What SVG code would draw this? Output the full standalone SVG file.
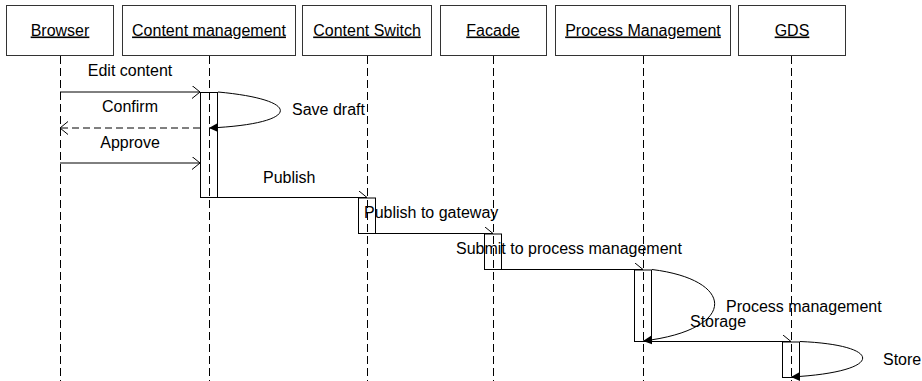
<svg xmlns="http://www.w3.org/2000/svg" width="922" height="381" viewBox="0 0 922 381">
<style>
.box{fill:#fff;stroke:#333;stroke-width:1}
.act{fill:#fff;stroke:#000;stroke-width:1}
.life{stroke:#000;stroke-width:1;stroke-dasharray:8,4;fill:none}
.hdr{font-family:"Liberation Sans",Arial,sans-serif;font-size:16px;text-anchor:middle;text-decoration:underline;fill:#000}
.lbl{font-family:"Liberation Sans",Arial,sans-serif;font-size:16px;fill:#000}
.msg{stroke:#000;stroke-width:1;fill:none}
.dash{stroke-dasharray:7,4}
</style>
<defs>
<marker id="open" markerWidth="10" markerHeight="14" refX="8" refY="6.5" orient="auto" markerUnits="userSpaceOnUse">
<path d="M0,0 L8,6.5 L0,13" fill="none" stroke="#000" stroke-width="1"/>
</marker>
<marker id="filled" markerWidth="10" markerHeight="10" refX="9" refY="4.5" orient="auto" markerUnits="userSpaceOnUse">
<path d="M0,0 L9,4.5 L0,9 Z" fill="#000"/>
</marker>
</defs>
<rect width="922" height="381" fill="#fff"/>
<g id="connectors">
<line class="msg" x1="60" y1="92" x2="200" y2="92" marker-end="url(#open)"/>
<text class="lbl" x="130" y="75.5" text-anchor="middle">Edit content</text>
<line class="msg dash" x1="200" y1="128" x2="60" y2="128" marker-end="url(#open)"/>
<text class="lbl" x="130" y="111.5" text-anchor="middle">Confirm</text>
<line class="msg" x1="60" y1="163" x2="200" y2="163" marker-end="url(#open)"/>
<text class="lbl" x="130" y="147.5" text-anchor="middle">Approve</text>
<line class="msg" x1="200" y1="197.5" x2="367" y2="197.5" marker-end="url(#open)"/>
<text class="lbl" x="263" y="183">Publish</text>
<line class="msg" x1="358" y1="233.5" x2="493" y2="233.5" marker-end="url(#open)"/>
<line class="msg" x1="484" y1="269.5" x2="643" y2="269.5" marker-end="url(#open)"/>
<line class="msg" x1="634" y1="341.5" x2="791" y2="341.5" marker-end="url(#open)"/>
</g>
<g id="browser">
<rect class="box" x="6.5" y="5.5" width="107" height="50"/>
<text class="hdr" x="60" y="35.5">Browser</text>
<line class="life" x1="60.5" y1="56" x2="60.5" y2="381"/>
</g>
<g id="content-management">
<rect class="box" x="122.5" y="5.5" width="173" height="50"/>
<text class="hdr" x="209" y="35.5">Content management</text>
<rect class="act" x="200.5" y="92.5" width="17" height="105"/>
<line class="life" x1="209.5" y1="56" x2="209.5" y2="381"/>
</g>
<g id="content-switch">
<rect class="box" x="302.5" y="5.5" width="129" height="50"/>
<text class="hdr" x="367" y="35.5">Content Switch</text>
<rect class="act" x="358.5" y="198" width="17" height="35.5"/>
<line class="life" x1="367.5" y1="56" x2="367.5" y2="381"/>
</g>
<g id="facade">
<rect class="box" x="440.5" y="5.5" width="106" height="50"/>
<text class="hdr" x="493" y="35.5">Facade</text>
<rect class="act" x="484.5" y="234" width="17" height="35.5"/>
<line class="life" x1="493.5" y1="56" x2="493.5" y2="381"/>
</g>
<g id="process-management">
<rect class="box" x="555.5" y="5.5" width="175" height="50"/>
<text class="hdr" x="643" y="35.5">Process Management</text>
<rect class="act" x="634.5" y="270" width="17" height="71.5"/>
<line class="life" x1="643.5" y1="56" x2="643.5" y2="381"/>
</g>
<g id="gds">
<rect class="box" x="738.5" y="5.5" width="107" height="50"/>
<text class="hdr" x="792" y="35.5">GDS</text>
<rect class="act" x="782.5" y="342" width="17" height="35.5"/>
<line class="life" x1="791.5" y1="56" x2="791.5" y2="381"/>
</g>
<g id="self-connectors">
<path class="msg" d="M218,92 C305,100 300,124 209,128" marker-end="url(#filled)"/>
<text class="lbl" x="292" y="114.5">Save draft</text>
<path class="msg" d="M652,269.5 C737,280 737,330 643,341" marker-end="url(#filled)"/>
<path class="msg" d="M800,341.5 C885,345 885,372 791,377" marker-end="url(#filled)"/>
</g>
<g id="labels">
<text class="lbl" x="364" y="218">Publish to gateway</text>
<text class="lbl" x="456" y="254">Submit to process management</text>
<text class="lbl" x="726" y="311.5">Process management</text>
<text class="lbl" x="690" y="326.5">Storage</text>
<text class="lbl" x="883" y="364.5">Store</text>
</g>
</svg>
